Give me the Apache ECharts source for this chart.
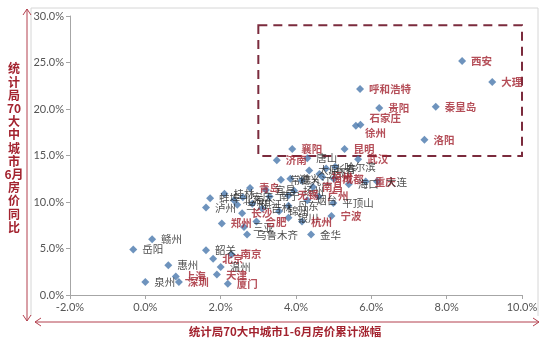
<!DOCTYPE html>
<html><head><meta charset="utf-8">
<script src="https://cdn.jsdelivr.net/npm/echarts@6/dist/echarts.min.js"></script>
<style>html,body{margin:0;padding:0;background:#fff}#c{width:550px;height:339px}</style>
</head><body><div id="c"></div>
<script>
// ---- data ----
const cities = ['西安','大理','呼和浩特','贵阳','秦皇岛','石家庄','徐州','洛阳','襄阳','昆明',
  '济南','唐山','武汉','哈尔滨','太原','沈阳','长春','福州','成都','海口',
  '重庆','大连','常德','遵义','九江','青岛','宜昌','扬州','无锡','南昌',
  '广州','烟台','平顶山','南宁','丹东','银川','杭州','宁波','金华','蚌埠',
  '泸州','兰州','湛江','安庆','桂林','北海','长沙','郑州','三亚','合肥',
  '乌鲁木齐','赣州','岳阳','韶关','北京','南京','温州','天津','惠州','上海',
  '深圳','泉州','厦门','吉林','锦州'];
// 1-6月房价累计涨幅 (%)
const growthJanJun = [8.41,9.21,5.70,6.21,7.71,5.71,5.59,7.41,3.90,5.29,
  3.49,4.30,5.65,5.04,4.35,4.62,4.80,4.70,5.00,5.40,
  5.85,6.15,3.60,3.85,4.15,2.78,3.20,3.95,3.80,4.45,
  4.60,4.30,4.99,3.30,3.80,3.80,4.16,4.94,4.40,1.72,
  1.61,2.44,2.84,2.59,2.10,2.35,2.57,2.03,2.62,2.95,
  2.70,0.18,-0.32,1.61,1.80,2.29,2.00,1.90,0.61,0.81,
  0.89,0.00,2.19,3.10,3.55];
// 6月房价同比 (%)
const yoyJune = [25.15,22.9,22.15,20.1,20.25,18.3,18.2,16.7,15.7,15.7,
  14.5,14.7,14.6,13.8,13.4,13.0,13.6,12.7,12.5,11.9,
  12.2,12.2,12.4,12.5,12.3,11.5,11.3,11.2,10.7,11.6,
  10.6,10.2,9.9,10.6,9.6,8.3,7.9,8.5,6.5,10.4,
  9.4,9.7,9.8,10.5,10.9,10.2,8.8,7.7,7.3,7.9,
  6.5,6.0,4.9,4.8,3.9,4.36,3.0,2.2,3.2,2.0,
  1.4,1.4,1.2,9.3,9.0];
// 1 = label drawn in red
const redLabel = [1,1,1,1,1,1,1,1,1,1,
  1,0,1,0,0,0,0,1,1,0,
  1,0,0,0,0,1,0,0,1,1,
  1,0,0,0,0,0,1,1,0,0,
  0,0,0,0,0,0,1,1,0,1,
  0,0,0,0,1,1,0,1,0,1,
  1,0,1,0,0];
const xTicks = [-2,0,2,4,6,8,10];
const yTicks = [0,5,10,15,20,25,30];
const box = {x0:3.0, x1:10.1, y0:14.95, y1:29.0};
const xTitle = '统计局70大中城市1-6月房价累计涨幅';
const yTitleLines = ['统','计','局','70','大','中','城','市','6月','房','价','同','比'];

// ---- styles ----
const RED = '#a3232f', BLACK = '#222222', ARROW = '#b3414f';
const labelTweaks = {'石家庄':[0,-7], '徐州':[0,7]};

const items = cities.map((n,i)=>{
  const it = {name:n, value:[growthJanJun[i], yoyJune[i]],
    label:{color: redLabel[i] ? RED : BLACK, fontWeight: redLabel[i] ? 'bold' : 'normal'}};
  if (labelTweaks[n]) it.label.offset = labelTweaks[n];
  return it;
});

const chart = echarts.init(document.getElementById('c'), null, {renderer:'canvas'});
const axisFont = {color:'#555', fontSize:11, fontFamily:'Lato'};
chart.setOption({
  animation:false,
  backgroundColor:'#ffffff',
  grid:{left:70, right:28, top:16, bottom:44},
  xAxis:{type:'value', min:xTicks[0], max:xTicks[xTicks.length-1], interval:xTicks[1]-xTicks[0],
    axisLine:{show:true, onZero:false, lineStyle:{color:'#a6a6a6'}},
    axisTick:{show:true, length:4, lineStyle:{color:'#a6a6a6'}},
    splitLine:{show:false},
    axisLabel:Object.assign({margin:7, formatter:v=>v.toFixed(1)+'%'}, axisFont)},
  yAxis:{type:'value', min:yTicks[0], max:yTicks[yTicks.length-1], interval:yTicks[1]-yTicks[0],
    axisLine:{show:true, onZero:false, lineStyle:{color:'#a6a6a6'}},
    axisTick:{show:true, length:4, lineStyle:{color:'#a6a6a6'}},
    splitLine:{show:false},
    axisLabel:Object.assign({margin:6, formatter:v=>v.toFixed(1)+'%'}, axisFont)},
  series:[{
    type:'scatter', symbol:'diamond', symbolSize:8,
    itemStyle:{color:'#4a78ad'},
    emphasis:{disabled:true},
    label:{show:true, position:'right', distance:5, formatter:'{b}', fontSize:10.5,
      fontFamily:'Noto Sans CJK SC'},
    data:items,
    markArea:{silent:true,
      itemStyle:{color:'rgba(0,0,0,0)', borderColor:'#7b2b3d', borderWidth:2, borderType:[9,6]},
      data:[[{coord:[box.x0, box.y1]},{coord:[box.x1, box.y0]}]]}
  }],
  graphic:[
    {type:'polyline', shape:{points:[[31,316],[31,8],[538,8],[538,316]]}, style:{stroke:'#d6d6d6', lineWidth:1, fill:null}, silent:true},
    {type:'line', shape:{x1:27,y1:9,x2:27,y2:321}, style:{stroke:ARROW, lineWidth:1}, silent:true},
    {type:'polyline', shape:{points:[[23,15],[27,9],[31,15]]}, style:{stroke:ARROW, lineWidth:1, fill:null}, silent:true},
    {type:'polyline', shape:{points:[[23,315],[27,321],[31,315]]}, style:{stroke:ARROW, lineWidth:1, fill:null}, silent:true},
    {type:'line', shape:{x1:35,y1:322,x2:539,y2:322}, style:{stroke:ARROW, lineWidth:1}, silent:true},
    {type:'polyline', shape:{points:[[41,318],[35,322],[41,326]]}, style:{stroke:ARROW, lineWidth:1, fill:null}, silent:true},
    {type:'polyline', shape:{points:[[533,318],[539,322],[533,326]]}, style:{stroke:ARROW, lineWidth:1, fill:null}, silent:true},
    {type:'text', x:14, y:148, silent:true, style:{text:yTitleLines.join('\n'), fill:RED,
      font:'bold 12px "Noto Sans CJK SC"', lineHeight:13.2, align:'center', verticalAlign:'middle'}},
    {type:'text', x:285, y:332, silent:true, style:{text:xTitle, fill:RED,
      font:'bold 11.5px "Noto Sans CJK SC"', align:'center', verticalAlign:'middle'}}
  ]
});
</script></body></html>
